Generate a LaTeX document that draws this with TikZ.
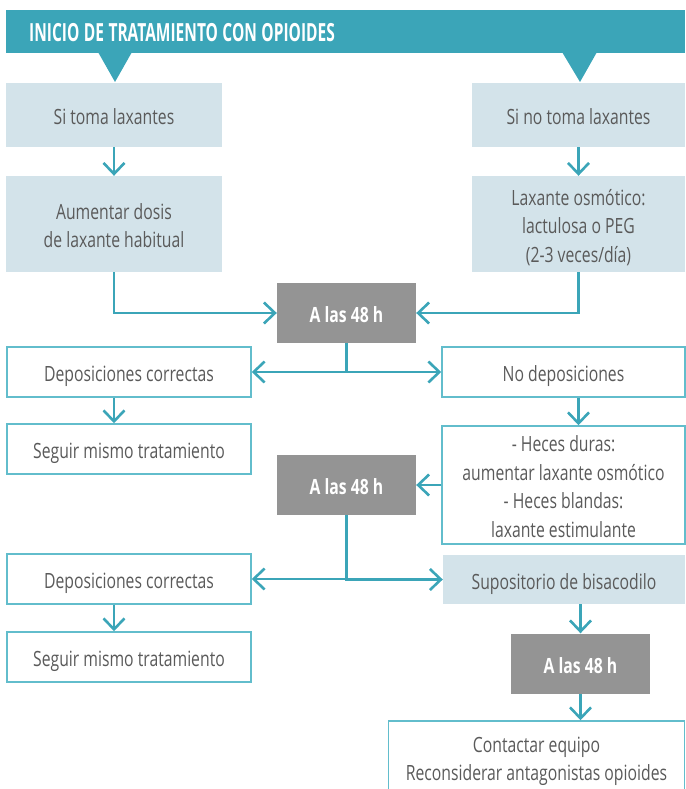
\documentclass[tikz,border=0pt]{standalone}
\usepackage{fontspec}
\setmainfont{Open Sans}[FakeStretch=0.75]
\newfontfamily\hdrfont{Open Sans}[FakeStretch=0.62]
\usetikzlibrary{arrows.meta,calc}

\definecolor{tealmain}{HTML}{3BA5B8}
\definecolor{tealedge}{HTML}{62BDCC}
\definecolor{paleblue}{HTML}{D3E3EA}
\definecolor{timegray}{HTML}{949494}
\definecolor{txtgray}{HTML}{5A5A5A}

\newcommand{\bodysize}{\fontsize{21}{28.5}\selectfont}
\newcommand{\hdrspacing}{\spaceskip=4.5pt plus 1pt\relax}

\begin{document}
\begin{tikzpicture}[x=1pt,y=-1pt,
  box/.style={rectangle, inner sep=0pt, align=center, text=txtgray, font=\bodysize,
    text height=19pt, text depth=0pt},
  twolines/.style={text height=47.5pt},
  threelines/.style={text height=76pt},
  fourlines/.style={text height=104.5pt},
  palebox/.style={box, fill=paleblue},
  edgebox/.style={box, draw=tealedge, line width=1.5pt, fill=white},
  timebox/.style={box, fill=timegray, text=white, font=\bodysize\bfseries,
    minimum width=139pt, minimum height=60pt},
  hdrbox/.style={rectangle, fill=tealmain, text=white, align=left,
    font=\hdrfont\fontsize{25}{28}\selectfont\bfseries},
  link/.style={draw=tealmain, line width=2.6pt,
    -{Straight Barb[length=11pt,width=21pt]}}
]
\useasboundingbox (0,0) rectangle (685,789);

% title bar with its two pointers
\node[hdrbox, anchor=north west, minimum height=43pt, text width=633pt,
  inner xsep=23pt, inner ysep=0pt, text height=19pt, text depth=0pt] (hdr) at (6,10)
  {\hdrspacing INICIO DE TRATAMIENTO CON OPIOIDES};
\fill[tealmain] (98,52) -- (132,52) -- (115,82) -- cycle;
\fill[tealmain] (562,52) -- (597,52) -- (580,82) -- cycle;

% first branch level
\node[palebox, minimum width=216pt, minimum height=64pt] (toma) at (114,115) {Si toma laxantes};
\node[palebox, minimum width=213pt, minimum height=64pt] (notoma) at (578.5,115) {Si no toma laxantes};
\node[palebox, twolines, minimum width=216pt, minimum height=96pt] (aumentar) at (114,224)
  {Aumentar dosis\\de laxante habitual};
\node[palebox, threelines, minimum width=213pt, minimum height=96pt] (osmotico) at (578.5,224)
  {Laxante osmótico:\\lactulosa o PEG\\(2-3 veces/día)};

% first check
\node[timebox] (t1) at (346.5,313) {A las 48 h};
\node[edgebox, minimum width=244pt, minimum height=50pt] (dep1) at (129,372) {Deposiciones correctas};
\node[edgebox, minimum width=243pt, minimum height=50pt] (nodep) at (563.5,372) {No deposiciones};
\node[edgebox, minimum width=244pt, minimum height=50pt] (seg1) at (129,449) {Seguir mismo tratamiento};
\node[edgebox, fourlines, minimum width=243pt, minimum height=118pt] (heces) at (563.5,485)
  {- Heces duras:\\aumentar laxante osmótico\\- Heces blandas:\\laxante estimulante};

% second check
\node[timebox] (t2) at (346.5,485) {A las 48 h};
\node[edgebox, minimum width=244pt, minimum height=50pt] (dep2) at (129,579) {Deposiciones correctas};
\node[palebox, minimum width=242pt, minimum height=49pt] (supo) at (564,579.5) {Supositorio de bisacodilo};
\node[edgebox, minimum width=244pt, minimum height=50pt] (seg2) at (129,657) {Seguir mismo tratamiento};

% third check and final step
\node[timebox] (t3) at (580.5,663.5) {A las 48 h};
\node[edgebox, twolines, minimum width=296pt, minimum height=72pt] (final) at (536.5,757)
  {Contactar equipo\\Reconsiderar antagonistas opioides};

% connectors
\draw[link] (toma.south) -- (aumentar.north);
\draw[link] (notoma.south) -- (osmotico.north);
\draw[link] (aumentar.south) |- (t1.west);
\draw[link] (osmotico.south) |- (t1.east);
\draw[link] (t1.south) |- (dep1.east);
\draw[link] (t1.south) |- (nodep.west);
\draw[link] (dep1.south -| toma.south) -- (seg1.north -| toma.south);
\draw[link] (nodep.south -| notoma.south) -- (heces.north -| notoma.south);
\draw[link] (heces.west) -- (t2.east);
\draw[link] (t2.south) |- (dep2.east);
\draw[link] (t2.south) |- (supo.west);
\draw[link] (dep2.south -| toma.south) -- (seg2.north -| toma.south);
\draw[link] (supo.south -| t3.north) -- (t3.north);
\draw[link] (t3.south) -- (final.north -| t3.south);
\end{tikzpicture}
\end{document}
